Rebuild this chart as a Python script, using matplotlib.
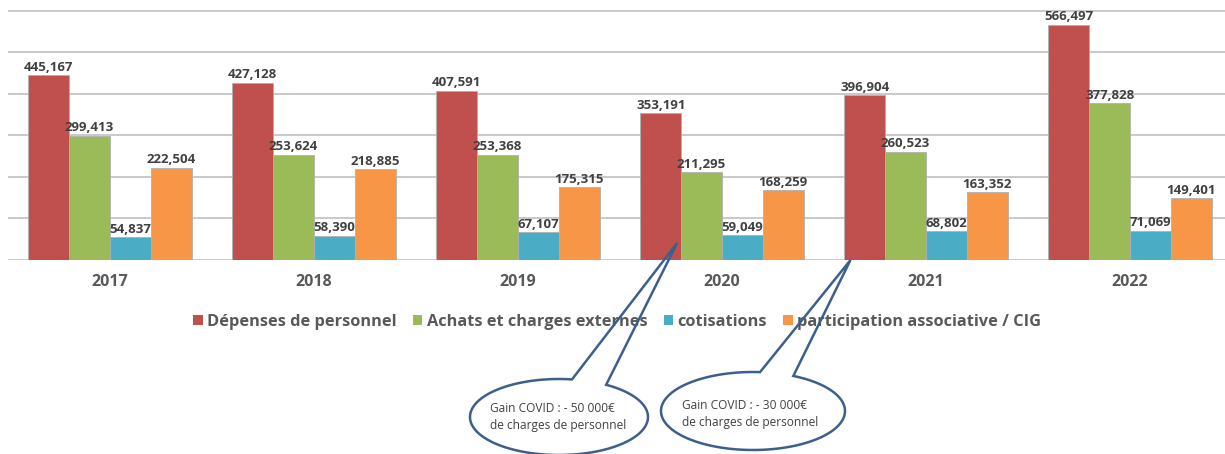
import numpy as np
import matplotlib
matplotlib.use("Agg")
import matplotlib.pyplot as plt
from matplotlib.patches import Polygon, Patch

years = ["2017", "2018", "2019", "2020", "2021", "2022"]
series_names = ["Dépenses de personnel", "Achats et charges externes",
                "cotisations", "participation associative / CIG"]
depenses = [445167, 427128, 407591, 353191, 396904, 566497]
achats = [299413, 253624, 253368, 211295, 260523, 377828]
cotisations = [54837, 58390, 67107, 59049, 68802, 71069]
participation = [222504, 218885, 175315, 168259, 163352, 149401]
colors = ["#C0504D", "#9BBB59", "#4BACC6", "#F79646"]
callout_texts = ["Gain COVID : - 50 000€\nde charges de personnel",
                 "Gain COVID : - 30 000€\nde charges de personnel"]

W, H = 1225, 454
plt.rcParams['font.family'] = ['Open Sans', 'DejaVu Sans']
fig = plt.figure(figsize=(W / 100, H / 100), dpi=100)
ax = fig.add_axes([8 / W, 1 - 260 / H, (W - 8) / W, 260 / H])

x = np.arange(len(years))
bw = 0.2
data = [depenses, achats, cotisations, participation]
for i, (vals, c) in enumerate(zip(data, colors)):
    pos = x + (i - 1.5) * bw
    ax.bar(pos, vals, width=bw, color=c, edgecolor="#b0b0b0", linewidth=0.6, zorder=3)
    for p, v in zip(pos, vals):
        ax.text(p, v + 3500, f"{v:,}", ha="center", va="bottom", fontsize=9.5,
                fontweight="bold", color="#404040", zorder=4)

ax.set_xlim(-0.5, -0.5 + (W - 8) / 204)
ax.set_ylim(0, 626500)
ax.set_yticks(np.arange(0, 600001, 100000))
ax.yaxis.grid(True, color="#c9c9c9", linewidth=1.4, zorder=0)
ax.set_yticklabels([])
ax.tick_params(axis="y", length=0)
ax.set_xticks(x)
ax.set_xticklabels(years, fontsize=11.5, fontweight="bold", color="#595959")
ax.tick_params(axis="x", length=0, pad=10)
for s in ax.spines.values():
    s.set_visible(False)

handles = [Patch(facecolor=c, edgecolor="none") for c in colors]
fig.legend(handles, series_names, loc="center", bbox_to_anchor=(617 / W, 1 - 322 / H),
           ncol=4, frameon=False, handlelength=0.6, handleheight=0.6, handletextpad=0.25,
           columnspacing=1.0, prop={"size": 11.8, "weight": "bold"}, labelcolor="#595959")

# callouts
fig.canvas.draw()
inv = fig.transFigure.inverted()

def px2fig(px, py):
    return (px / W, 1 - py / H)

callouts = [
    dict(center=(559, 417), a=89, b=38, base=(81.6, 58.0), tip=(2.78, 41000), text_xy=(490, 416.5)),
    dict(center=(753, 411), a=92, b=39, base=(85.6, 64.0), tip=(3.63, 0), text_xy=(682, 414)),
]
for co, txt in zip(callouts, callout_texts):
    cx, cy = co["center"]
    a, b = co["a"], co["b"]
    t1, t2 = co["base"]
    th = np.radians(np.linspace(t1, t2 + 360, 200))
    pts = [px2fig(cx + a * np.cos(t), cy - b * np.sin(t)) for t in th]
    tip_disp = ax.transData.transform(co["tip"])
    tip_fig = inv.transform(tip_disp)
    pts.append(tuple(tip_fig))
    poly = Polygon(pts, closed=True, facecolor="none", edgecolor="#3D5F8C",
                   linewidth=1.8, transform=fig.transFigure, zorder=10)
    fig.add_artist(poly)
    tx, ty = px2fig(*co["text_xy"])
    fig.text(tx, ty, txt, ha="left", va="center", fontsize=8.6, color="#404040",
             linespacing=1.4, multialignment="left")

fig.savefig("out.png", dpi=100)
